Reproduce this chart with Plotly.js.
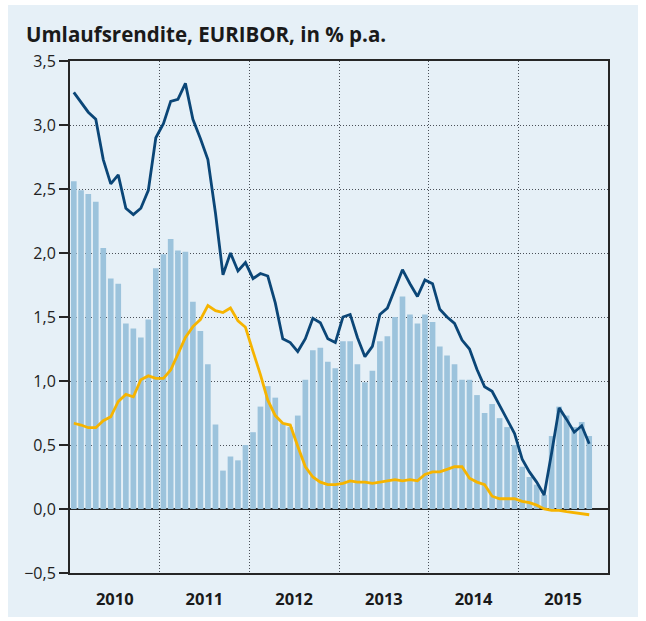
<!DOCTYPE html>
<html>
<head>
<meta charset="utf-8">
<script src="https://cdn.plot.ly/plotly-3.0.1.min.js"></script>
<style>
  html, body { margin: 0; padding: 0; background: #ffffff; }
  #bg { position: absolute; left: 8px; top: 5px; width: 630px; height: 612px; background: #e6f0f7; }
  #chart { position: absolute; left: 0; top: 0; width: 646px; height: 621px; }
</style>
</head>
<body>
<div id="bg"></div>
<div id="chart"></div>
<script>
// Monthly observations, Jan 2010 – Oct 2015
const months = [
  '2010-01','2010-02','2010-03','2010-04','2010-05','2010-06','2010-07','2010-08','2010-09','2010-10','2010-11','2010-12',
  '2011-01','2011-02','2011-03','2011-04','2011-05','2011-06','2011-07','2011-08','2011-09','2011-10','2011-11','2011-12',
  '2012-01','2012-02','2012-03','2012-04','2012-05','2012-06','2012-07','2012-08','2012-09','2012-10','2012-11','2012-12',
  '2013-01','2013-02','2013-03','2013-04','2013-05','2013-06','2013-07','2013-08','2013-09','2013-10','2013-11','2013-12',
  '2014-01','2014-02','2014-03','2014-04','2014-05','2014-06','2014-07','2014-08','2014-09','2014-10','2014-11','2014-12',
  '2015-01','2015-02','2015-03','2015-04','2015-05','2015-06','2015-07','2015-08','2015-09','2015-10'
];

// Light blue bars
const umlaufsrendite = [
  2.56, 2.49, 2.46, 2.40, 2.04, 1.80, 1.76, 1.45, 1.41, 1.34, 1.48, 1.88,
  1.99, 2.11, 2.02, 2.01, 1.62, 1.39, 1.13, 0.66, 0.30, 0.41, 0.38, 0.50,
  0.60, 0.80, 0.96, 0.87, 0.67, 0.64, 0.73, 1.01, 1.24, 1.26, 1.15, 1.10,
  1.31, 1.31, 1.13, 0.99, 1.08, 1.31, 1.35, 1.50, 1.66, 1.52, 1.45, 1.52,
  1.46, 1.27, 1.20, 1.13, 1.01, 1.01, 0.89, 0.75, 0.82, 0.71, 0.64, 0.50,
  0.33, 0.25, 0.19, 0.11, 0.57, 0.80, 0.73, 0.64, 0.68, 0.57
];

// Dark blue line
const darkLine = [
  3.255, 3.18, 3.10, 3.045, 2.73, 2.54, 2.61, 2.35, 2.30, 2.35, 2.49, 2.90,
  3.01, 3.185, 3.20, 3.325, 3.045, 2.895, 2.73, 2.31, 1.83, 2.00, 1.86, 1.925,
  1.80, 1.84, 1.82, 1.61, 1.33, 1.30, 1.23, 1.33, 1.49, 1.455, 1.33, 1.30,
  1.50, 1.52, 1.34, 1.19, 1.27, 1.52, 1.57, 1.72, 1.87, 1.76, 1.66, 1.79,
  1.76, 1.56, 1.50, 1.45, 1.32, 1.25, 1.09, 0.955, 0.92, 0.81, 0.695, 0.59,
  0.39, 0.29, 0.21, 0.11, 0.44, 0.79, 0.70, 0.60, 0.65, 0.51
];

// Orange line (EURIBOR)
const euribor = [
  0.67, 0.656, 0.635, 0.635, 0.69, 0.72, 0.84, 0.895, 0.877, 1.01, 1.04, 1.02,
  1.02, 1.086, 1.21, 1.34, 1.425, 1.48, 1.59, 1.55, 1.535, 1.57, 1.47, 1.42,
  1.23, 1.05, 0.85, 0.73, 0.67, 0.656, 0.49, 0.33, 0.25, 0.21, 0.19, 0.19,
  0.20, 0.22, 0.21, 0.21, 0.20, 0.21, 0.22, 0.23, 0.22, 0.23, 0.22, 0.27,
  0.29, 0.29, 0.31, 0.33, 0.33, 0.24, 0.21, 0.19, 0.10, 0.08, 0.08, 0.08,
  0.06, 0.05, 0.03, 0.00, -0.01, -0.01, -0.02, -0.03, -0.04, -0.045
];

const yTicks = [-0.5, 0, 0.5, 1, 1.5, 2, 2.5, 3, 3.5];

const traces = [
  {
    type: 'bar', x: months, y: umlaufsrendite,
    xperiod: 'M1', xperiodalignment: 'middle',
    marker: { color: '#9cc3dc', line: { width: 0 } },
    hoverinfo: 'x+y'
  },
  {
    type: 'scatter', mode: 'lines', x: months, y: euribor,
    xperiod: 'M1', xperiodalignment: 'middle',
    line: { color: '#f6b400', width: 2.8 }
  },
  {
    type: 'scatter', mode: 'lines', x: months, y: darkLine,
    xperiod: 'M1', xperiodalignment: 'middle',
    line: { color: '#0b4677', width: 2.8 }
  }
];

const gridDash = '1px,2px';

const layout = {
  width: 646, height: 621,
  margin: { l: 70, r: 38, t: 61, b: 48 },
  paper_bgcolor: 'rgba(0,0,0,0)',
  plot_bgcolor: '#e6f0f7',
  separators: ',.',
  showlegend: false,
  bargap: 0.22,
  font: { family: 'Open Sans, Liberation Sans, sans-serif', color: '#222' },
  title: {
    text: '<b>Umlaufsrendite, EURIBOR, in % p.a.</b>',
    font: { size: 20.5, color: '#1a1a1a', family: 'Open Sans, sans-serif' },
    xref: 'container', yref: 'container',
    x: 26 / 646, xanchor: 'left',
    y: 1 - 35 / 621, yanchor: 'middle'
  },
  xaxis: {
    type: 'date',
    range: ['2010-01-01', '2016-01-01'],
    dtick: 'M12', tick0: '2010-01-01',
    ticklabelmode: 'period',
    tickformat: '<b>%Y</b>',
    ticks: '',
    ticklabelstandoff: 10,
    tickfont: { size: 16.5, color: '#1a1a1a' },
    showgrid: true, gridcolor: '#4a5058', griddash: gridDash, gridwidth: 1,
    showline: true, linecolor: '#262626', linewidth: 2, mirror: true,
    zeroline: false, fixedrange: true
  },
  yaxis: {
    range: [-0.5, 3.5],
    tickvals: yTicks,
    tickformat: '.1f',
    ticks: 'outside', ticklen: 9, tickwidth: 2, tickcolor: '#262626',
    tickfont: { size: 16, color: '#222' },
    showgrid: true, gridcolor: '#4a5058', griddash: gridDash, gridwidth: 1,
    showline: true, linecolor: '#262626', linewidth: 2, mirror: true,
    zeroline: true, zerolinecolor: '#262626', zerolinewidth: 1.5,
    fixedrange: true
  }
};

Plotly.newPlot('chart', traces, layout, { displayModeBar: false, staticPlot: true });
</script>
</body>
</html>
